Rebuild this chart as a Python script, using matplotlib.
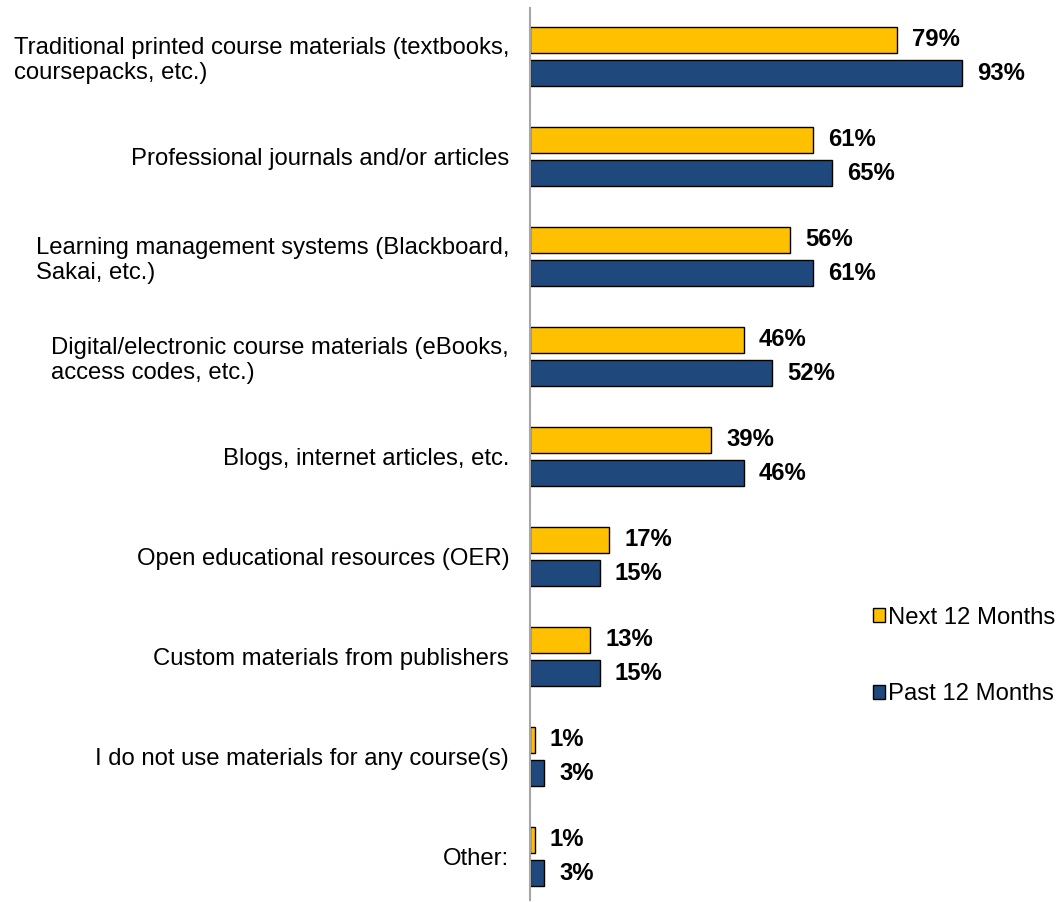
import numpy as np
import matplotlib
matplotlib.use('Agg')
import matplotlib.pyplot as plt

plt.rcParams['font.family'] = ['Liberation Sans', 'DejaVu Sans']

categories = [
    'Traditional printed course materials (textbooks,\ncoursepacks, etc.)',
    'Professional journals and/or articles',
    'Learning management systems (Blackboard,\nSakai, etc.)',
    'Digital/electronic course materials (eBooks,\naccess codes, etc.)',
    'Blogs, internet articles, etc.',
    'Open educational resources (OER)',
    'Custom materials from publishers',
    'I do not use materials for any course(s)',
    'Other:',
]
next_12 = [79, 61, 56, 46, 39, 17, 13, 1, 1]
past_12 = [93, 65, 61, 52, 46, 15, 15, 3, 3]

yellow = '#FFC000'
navy = '#1F497D'
fs = 17.2

fig = plt.figure(figsize=(10.59, 9.02), dpi=100)
ax = fig.add_axes([530 / 1059, 2 / 902, 464.5 / 1059, 892 / 902])

y = np.arange(len(categories))
h = 0.265
off = 0.167
ax.barh(y - off, next_12, height=h, color=yellow, edgecolor='black', linewidth=1, label='Next 12 Months')
ax.barh(y + off, past_12, height=h, color=navy, edgecolor='black', linewidth=1, label='Past 12 Months')

for yi, v in zip(y, next_12):
    ax.annotate(f'{v}%', (v, yi - off), xytext=(11, 0), textcoords='offset points',
                va='center', ha='left', fontsize=fs, fontweight='bold')
for yi, v in zip(y, past_12):
    ax.annotate(f'{v}%', (v, yi + off), xytext=(11, 0), textcoords='offset points',
                va='center', ha='left', fontsize=fs, fontweight='bold')

ax.set_xlim(0, 100)
ax.set_ylim(8.435, -0.485)
ax.set_yticks(y)
ax.set_yticklabels(categories, fontsize=fs, multialignment='left')
ax.tick_params(axis='y', length=0, pad=15)
ax.set_xticks([])
for s in ['top', 'right', 'bottom']:
    ax.spines[s].set_visible(False)
ax.spines['left'].set_color('#A6A6A6')
ax.spines['left'].set_linewidth(1.5)

fig.legend(loc='center left', bbox_to_anchor=(873 / 1059, 1 - 656 / 902),
           frameon=False, fontsize=fs, handlelength=0.5, handleheight=0.5,
           handletextpad=0.12, labelspacing=2.3, borderaxespad=0, borderpad=0)

plt.savefig('out.png', dpi=100)
